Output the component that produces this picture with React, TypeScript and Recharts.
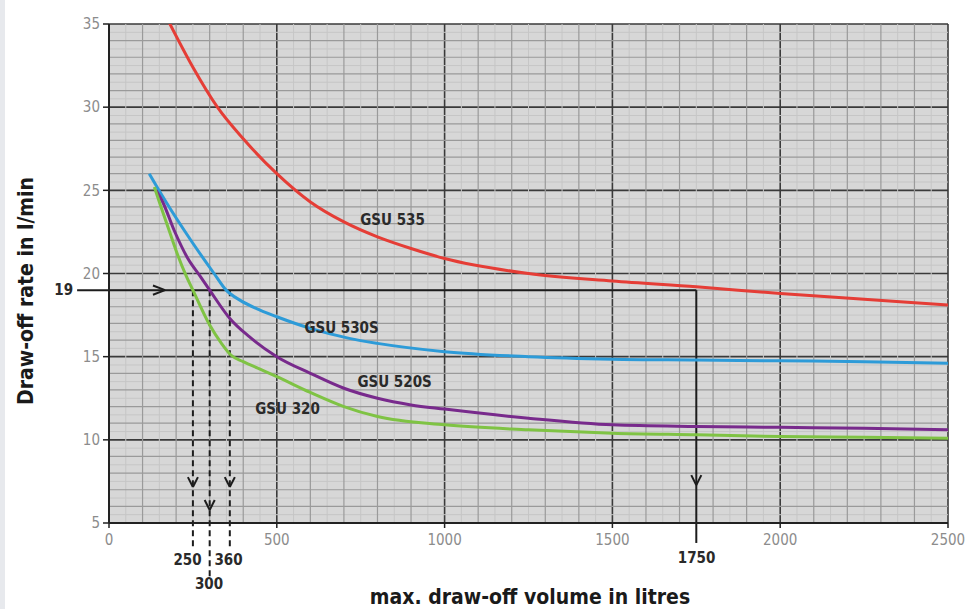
import React from 'react';
import { LineChart, Line, XAxis, YAxis, CartesianGrid, ReferenceLine, ReferenceDot } from 'recharts';

const FONT = '"Liberation Sans Narrow", "DejaVu Sans Condensed", "Roboto Condensed", "Arial Narrow", sans-serif';

// axis ticks
const xTicks = [0, 500, 1000, 1500, 2000, 2500];
const yTicks = [5, 10, 15, 20, 25, 30, 35];

// GSU 535 (red)
const gsu535Volume = [179, 250, 323, 400, 500, 600, 700, 800, 900, 1000, 1250, 1500, 1750, 2000, 2250, 2500];
const gsu535Rate = [35.1, 32.4, 30.0, 28.1, 26.0, 24.3, 23.1, 22.2, 21.5, 20.9, 20.0, 19.55, 19.2, 18.8, 18.45, 18.1];

// GSU 530S (blue)
const gsu530sVolume = [120, 155, 224, 313, 349, 390, 450, 500, 600, 716, 800, 1000, 1250, 1500, 1750, 2000, 2250, 2500];
const gsu530sRate = [26.0, 24.8, 22.6, 20.0, 19.0, 18.4, 17.8, 17.4, 16.7, 16.1, 15.8, 15.3, 15.0, 14.85, 14.8, 14.75, 14.7, 14.6];

// GSU 520S (purple)
const gsu520sVolume = [140, 160, 194, 235, 273, 300, 360, 418, 500, 600, 700, 800, 900, 1000, 1250, 1500, 1750, 2000, 2250, 2500];
const gsu520sRate = [25.0, 24.3, 22.6, 20.9, 19.8, 19.0, 17.3, 16.2, 15.0, 14.0, 13.1, 12.5, 12.1, 11.85, 11.3, 10.9, 10.8, 10.75, 10.7, 10.6];

// GSU 320 (green)
const gsu320Volume = [135, 155, 179, 205, 229, 250, 300, 335, 363, 400, 450, 500, 600, 700, 800, 1000, 1250, 1500, 1750, 2000, 2250, 2500];
const gsu320Rate = [25.2, 24.0, 22.6, 21.1, 19.9, 19.0, 16.9, 15.8, 15.1, 14.7, 14.25, 13.8, 12.85, 12.0, 11.4, 10.9, 10.6, 10.4, 10.3, 10.2, 10.15, 10.1];

// example reading
const exampleRate = 19;
const exampleVolumes = [250, 300, 360];
const exampleLargeVolume = 1750;

const toPoints = (xs: number[], ys: number[]) => xs.map((x, i) => ({ x, y: ys[i] }));

const d535 = toPoints(gsu535Volume, gsu535Rate);
const d530 = toPoints(gsu530sVolume, gsu530sRate);
const d520 = toPoints(gsu520sVolume, gsu520sRate);
const d320 = toPoints(gsu320Volume, gsu320Rate);

// grid positions
const xMinor: number[] = [];
for (let v = 100; v < 2500; v += 100) if (v % 500 !== 0) xMinor.push(v);
const xFaint: number[] = [];
for (let v = 50; v < 2500; v += 100) xFaint.push(v);
const yMinor: number[] = [];
for (let v = 6; v < 35; v += 1) if (v % 5 !== 0) yMinor.push(v);
const yFaint: number[] = [];
for (let v = 5.5; v < 35; v += 1) yFaint.push(v);

const ANN = '#1c1c1c';

const textShape = (label: string, size: number, weight: string | number, fill: string) => (props: any) => (
  <text
    x={props.cx}
    y={props.cy}
    textAnchor="middle"
    dominantBaseline="central"
    fontFamily={FONT}
    fontSize={size}
    fontWeight={weight}
    fill={fill}
  >
    {label}
  </text>
);

export default function App() {
  return (
    <div style={{ position: 'fixed', left: 0, top: 0, width: 973, height: 609, background: '#ffffff', overflow: 'hidden' }}>
      <div style={{ position: 'absolute', left: 0, top: 0, width: 5, height: 609, background: '#e7e9ed' }} />
      <LineChart width={973} height={609} margin={{ top: 24, right: 25, bottom: 46, left: 49 }}>
        <CartesianGrid
          fill="#d7d7d7"
          stroke="#3a3a3a"
          strokeWidth={1.6}
          strokeOpacity={1}
        />
        {xFaint.map((v) => (
          <ReferenceLine key={'xf' + v} x={v} stroke="#c6c6c6" strokeWidth={1} zIndex={-90} />
        ))}
        {yFaint.map((v) => (
          <ReferenceLine key={'yf' + v} y={v} stroke="#c6c6c6" strokeWidth={1} zIndex={-90} />
        ))}
        {xMinor.map((v) => (
          <ReferenceLine key={'xm' + v} x={v} stroke="#9a9a9a" strokeWidth={1.2} zIndex={-80} />
        ))}
        {yMinor.map((v) => (
          <ReferenceLine key={'ym' + v} y={v} stroke="#9a9a9a" strokeWidth={1.2} zIndex={-80} />
        ))}
        <XAxis
          type="number"
          dataKey="x"
          domain={[0, 2500]}
          ticks={xTicks}
          allowDataOverflow
          height={40}
          tickSize={5}
          tickMargin={6}
          axisLine={{ stroke: '#222', strokeWidth: 2 }}
          tickLine={{ stroke: '#222', strokeWidth: 1.5 }}
          tick={{ fill: '#8c8c8c', fontSize: 15, fontFamily: FONT }}
        />
        <YAxis
          type="number"
          domain={[5, 35]}
          ticks={yTicks}
          allowDataOverflow
          width={60}
          tickSize={6}
          tickMargin={3}
          axisLine={{ stroke: '#222', strokeWidth: 2 }}
          tickLine={{ stroke: '#222', strokeWidth: 1.5 }}
          tick={{ fill: '#8c8c8c', fontSize: 15, fontFamily: FONT }}
        />

        {/* example reading lines */}
        <ReferenceLine
          segment={[{ x: -95, y: exampleRate }, { x: exampleLargeVolume, y: exampleRate }]}
          stroke={ANN}
          strokeWidth={2}
          ifOverflow="visible"
        />
        <ReferenceLine
          segment={[{ x: exampleLargeVolume, y: exampleRate }, { x: exampleLargeVolume, y: 3.8 }]}
          stroke={ANN}
          strokeWidth={2}
          ifOverflow="visible"
        />
        {exampleVolumes.map((v) => (
          <ReferenceLine
            key={'dash' + v}
            segment={[{ x: v, y: exampleRate }, { x: v, y: v === 300 ? 1.75 : 3.56 }]}
            stroke={ANN}
            strokeWidth={2}
            strokeDasharray="6 4"
            ifOverflow="visible"
          />
        ))}
        {/* arrow heads */}
        <ReferenceLine segment={[{ x: 131, y: 19.28 }, { x: 167, y: 19 }]} stroke={ANN} strokeWidth={2} ifOverflow="visible" />
        <ReferenceLine segment={[{ x: 131, y: 18.72 }, { x: 167, y: 19 }]} stroke={ANN} strokeWidth={2} ifOverflow="visible" />
        {exampleVolumes.map((v) => {
          const tip = v === 300 ? 5.78 : 7.16;
          return (
            <React.Fragment key={'arr' + v}>
              <ReferenceLine segment={[{ x: v - 15, y: tip + 0.6 }, { x: v, y: tip }]} stroke={ANN} strokeWidth={2} ifOverflow="visible" />
              <ReferenceLine segment={[{ x: v + 15, y: tip + 0.6 }, { x: v, y: tip }]} stroke={ANN} strokeWidth={2} ifOverflow="visible" />
            </React.Fragment>
          );
        })}
        <ReferenceLine segment={[{ x: 1735, y: 7.88 }, { x: 1750, y: 7.28 }]} stroke={ANN} strokeWidth={2} ifOverflow="visible" />
        <ReferenceLine segment={[{ x: 1765, y: 7.88 }, { x: 1750, y: 7.28 }]} stroke={ANN} strokeWidth={2} ifOverflow="visible" />

        <Line data={d535} dataKey="y" type="monotone" stroke="#e53d36" strokeWidth={3} dot={false} isAnimationActive={false} />
        <Line data={d530} dataKey="y" type="monotone" stroke="#2d9bd8" strokeWidth={3} dot={false} isAnimationActive={false} />
        <Line data={d520} dataKey="y" type="monotone" stroke="#782a8c" strokeWidth={3} dot={false} isAnimationActive={false} />
        <Line data={d320} dataKey="y" type="monotone" stroke="#7fc344" strokeWidth={3} dot={false} isAnimationActive={false} />

        {/* series labels */}
        <ReferenceDot x={845} y={23.22} r={0} ifOverflow="visible" shape={textShape('GSU 535', 15, 'bold', '#2a2a2a')} />
        <ReferenceDot x={693} y={16.73} r={0} ifOverflow="visible" shape={textShape('GSU 530S', 15, 'bold', '#2a2a2a')} />
        <ReferenceDot x={851} y={13.48} r={0} ifOverflow="visible" shape={textShape('GSU 520S', 15, 'bold', '#2a2a2a')} />
        <ReferenceDot x={532} y={11.86} r={0} ifOverflow="visible" shape={textShape('GSU 320', 15, 'bold', '#2a2a2a')} />

        {/* example values */}
        <ReferenceDot x={-135} y={exampleRate} r={0} ifOverflow="visible" shape={textShape('19', 15, 'bold', '#2a2a2a')} />
        <ReferenceDot x={234} y={2.78} r={0} ifOverflow="visible" shape={textShape('250', 15, 'bold', '#2a2a2a')} />
        <ReferenceDot x={356} y={2.78} r={0} ifOverflow="visible" shape={textShape('360', 15, 'bold', '#2a2a2a')} />
        <ReferenceDot x={298} y={1.33} r={0} ifOverflow="visible" shape={textShape('300', 15, 'bold', '#2a2a2a')} />
        <ReferenceDot x={1751} y={2.9} r={0} ifOverflow="visible" shape={textShape('1750', 15, 'bold', '#2a2a2a')} />
      </LineChart>
      <svg width={973} height={609} style={{ position: 'absolute', left: 0, top: 0, pointerEvents: 'none' }}>
        <text
          x={0}
          y={0}
          transform="translate(26,291) rotate(-90)"
          textAnchor="middle"
          dominantBaseline="central"
          fontFamily={FONT}
          fontSize={21}
          fontWeight="bold"
          fill="#1a1a1a"
        >
          Draw-off rate in l/min
        </text>
        <text
          x={530}
          y={597}
          textAnchor="middle"
          dominantBaseline="central"
          fontFamily={FONT}
          fontSize={21}
          fontWeight="bold"
          fill="#1a1a1a"
        >
          max. draw-off volume in litres
        </text>
      </svg>
    </div>
  );
}
